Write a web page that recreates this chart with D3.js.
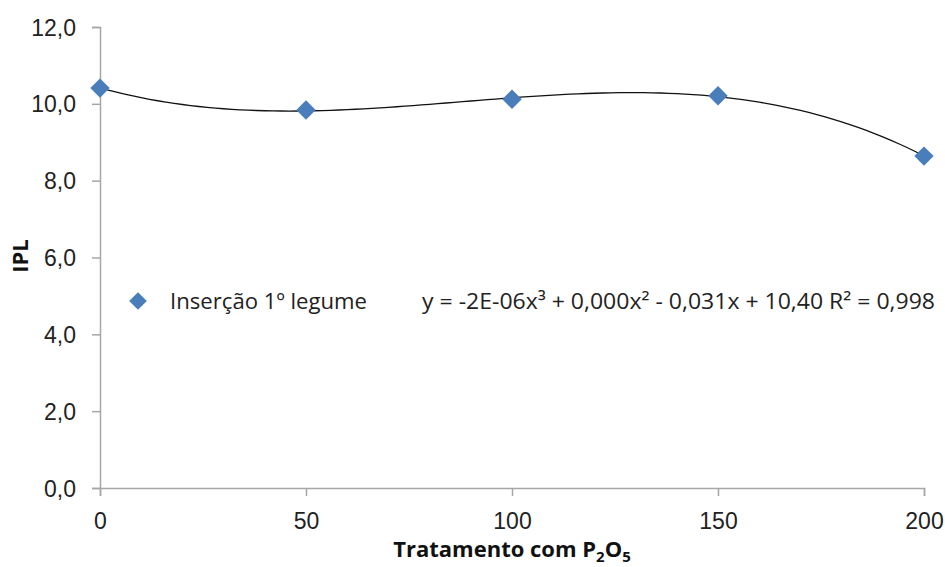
<!DOCTYPE html>
<html>
<head>
<meta charset="utf-8">
<script src="https://cdn.jsdelivr.net/npm/d3@7.9.0/dist/d3.min.js"></script>
<style>
  html, body { margin: 0; padding: 0; background: #fff; }
  svg { display: block; font-family: 'Open Sans', sans-serif; }
  .tick text { fill: #222; font-size: 23px; }
</style>
</head>
<body>
<svg width="945" height="567"></svg>
<script>
const doses = [0, 50, 100, 150, 200];
const ipl = [10.41, 9.84, 10.12, 10.21, 8.64];
const xTicks = [0, 50, 100, 150, 200];
const yTicks = [0, 2, 4, 6, 8, 10, 12];
const seriesName = 'Inserção 1º legume';
const equation = 'y = -2E-06x³ + 0,000x² - 0,031x + 10,40  R² = 0,998';

const svg = d3.select('svg');
const x = d3.scaleLinear().domain([0, 200]).range([100, 924]);
const y = d3.scaleLinear().domain([0, 12]).range([488, 27]);

const axisColor = '#a6a6a6';
const fmt = (d) => d3.format('.1f')(d).replace('.', ',');

// y axis
const gy = svg.append('g')
  .attr('transform', `translate(${x(0)},0)`)
  .call(d3.axisLeft(y).tickValues(yTicks).tickFormat(fmt).tickSize(8).tickPadding(16));
gy.select('.domain').attr('stroke', axisColor).attr('stroke-width', 1.5);
gy.selectAll('.tick line').attr('stroke', axisColor).attr('stroke-width', 1.5);
gy.selectAll('.tick text').attr('dy', '0.35em');

// x axis
const gx = svg.append('g')
  .attr('transform', `translate(0,${y(0)})`)
  .call(d3.axisBottom(x).tickValues(xTicks).tickSize(8).tickPadding(17));
gx.select('.domain').attr('stroke', axisColor).attr('stroke-width', 1.5);
gx.selectAll('.tick line').attr('stroke', axisColor).attr('stroke-width', 1.5);

// cubic least-squares trendline from the data
function polyFit(xs, ys, deg) {
  const n = deg + 1;
  const A = Array.from({ length: n }, () => new Array(n + 1).fill(0));
  xs.forEach((xv, k) => {
    for (let i = 0; i < n; i++) {
      for (let j = 0; j < n; j++) A[i][j] += Math.pow(xv, i + j);
      A[i][n] += Math.pow(xv, i) * ys[k];
    }
  });
  for (let i = 0; i < n; i++) {
    let p = i;
    for (let r = i + 1; r < n; r++) if (Math.abs(A[r][i]) > Math.abs(A[p][i])) p = r;
    [A[i], A[p]] = [A[p], A[i]];
    for (let r = 0; r < n; r++) {
      if (r === i) continue;
      const f = A[r][i] / A[i][i];
      for (let c = i; c <= n; c++) A[r][c] -= f * A[i][c];
    }
  }
  return A.map((row, i) => row[n] / row[i]);
}
const coef = polyFit(doses, ipl, 3);
const trend = (xv) => coef.reduce((s, c, i) => s + c * Math.pow(xv, i), 0);
const trendPts = d3.range(0, 200.5, 2).map((xv) => [xv, trend(xv)]);

svg.append('path')
  .datum(trendPts)
  .attr('fill', 'none')
  .attr('stroke', '#111')
  .attr('stroke-width', 1.3)
  .attr('d', d3.line().x((d) => x(d[0])).y((d) => y(d[1])));

// markers
const diamond = d3.symbol().type(d3.symbolDiamond2).size(240);
svg.append('g')
  .selectAll('path')
  .data(doses)
  .join('path')
  .attr('d', diamond)
  .attr('transform', (d, i) => `translate(${x(d)},${y(ipl[i])})`)
  .attr('fill', '#4a7ebb');

// legend
const legend = svg.append('g');
legend.append('path')
  .attr('d', d3.symbol().type(d3.symbolDiamond2).size(200))
  .attr('transform', 'translate(138,301)')
  .attr('fill', '#4a7ebb');
legend.append('text')
  .attr('x', 170).attr('y', 309)
  .attr('font-size', 22).attr('fill', '#222')
  .attr('textLength', 197).attr('lengthAdjust', 'spacingAndGlyphs')
  .text(seriesName);
legend.append('text')
  .attr('x', 422).attr('y', 309)
  .attr('font-size', 22).attr('fill', '#222')
  .attr('textLength', 513).attr('lengthAdjust', 'spacingAndGlyphs')
  .text(equation);

// axis titles
svg.append('text')
  .attr('transform', 'translate(28,256) rotate(-90)')
  .attr('text-anchor', 'middle')
  .attr('font-size', 22).attr('font-weight', 'bold').attr('fill', '#111')
  .text('IPL');

const xt = svg.append('text')
  .attr('x', 512).attr('y', 557)
  .attr('text-anchor', 'middle')
  .attr('font-size', 22).attr('font-weight', 'bold').attr('fill', '#111');
xt.append('tspan').text('Tratamento com P');
xt.append('tspan').attr('font-size', 15).attr('dy', 5).text('2');
xt.append('tspan').attr('dy', -5).text('O');
xt.append('tspan').attr('font-size', 15).attr('dy', 5).text('5');
</script>
</body>
</html>
